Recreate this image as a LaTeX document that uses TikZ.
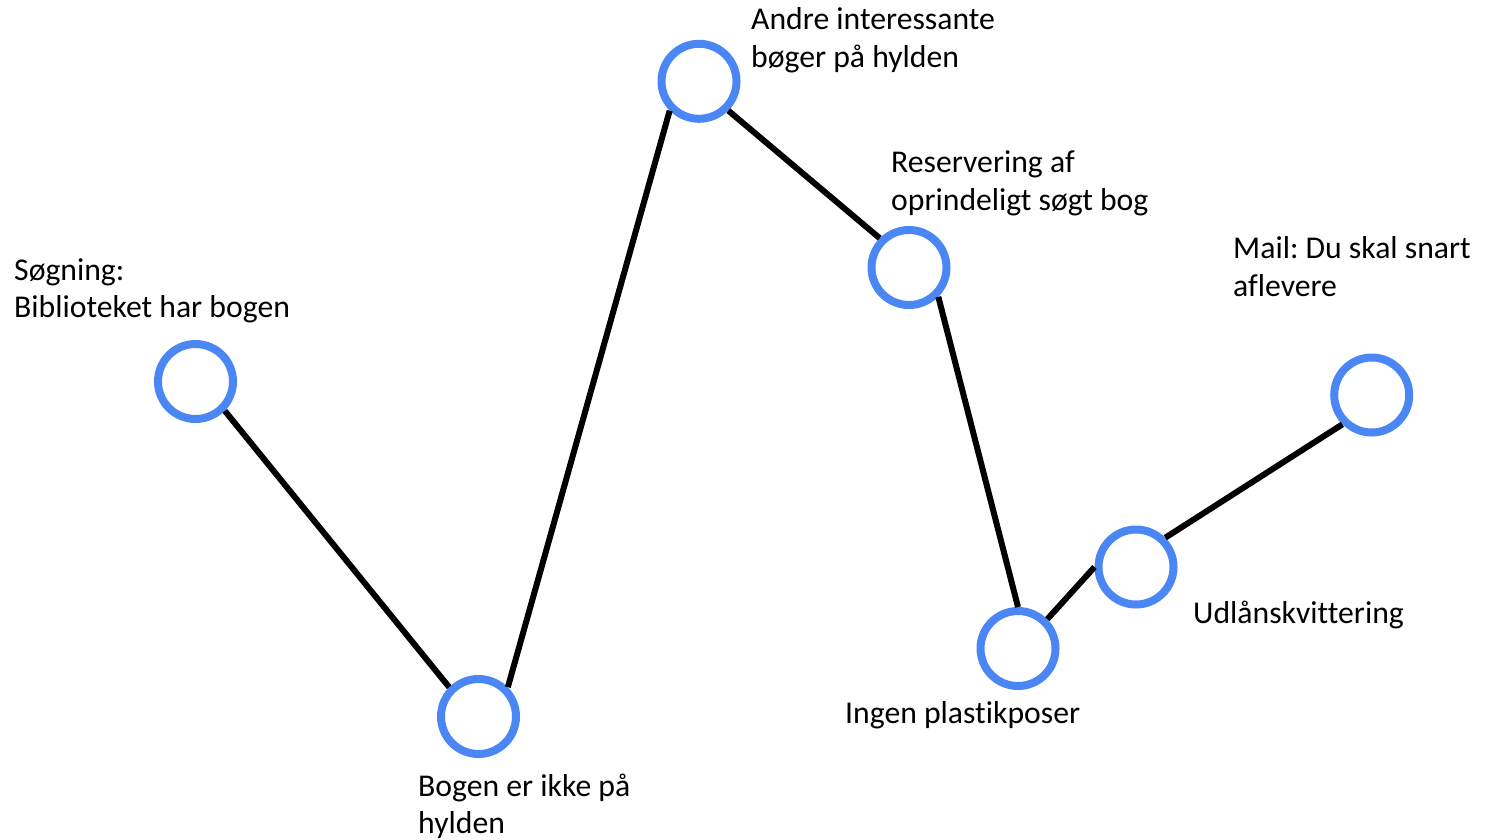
\documentclass[tikz,border=0pt]{standalone}
\usepackage{fontspec}
\setmainfont{Carlito}[Ligatures=NoCommon]
\frenchspacing
\definecolor{stepblue}{HTML}{4A87F5}
\tikzset{
  stage/.style={circle, draw=stepblue, line width=8pt, minimum size=75pt, inner sep=0pt},
  link/.style={draw=black, line width=6pt},
  lbl/.style={anchor=base west, inner sep=0pt, align=left,
    font=\fontsize{31.7pt}{37.5pt}\selectfont}
}
\begin{document}
\begin{tikzpicture}[x=1pt, y=-1pt]
\useasboundingbox (0,0) rectangle (1493,839);
\node[stage] (c1) at (195.5,381.5) {};
\node[stage] (c2) at (478.5,716.5) {};
\node[stage] (c3) at (699,81.3) {};
\node[stage] (c4) at (909,267.5) {};
\node[stage] (c5) at (1018,648.5) {};
\node[stage] (c6) at (1136,567) {};
\node[stage] (c7) at (1371.7,395) {};
\draw[link] (c1.south east) -- (c2.north west);
\draw[link] (c2.north east) -- (c3.south west);
\draw[link] (c3.south east) -- (c4.north west);
\draw[link] (c4.south east) -- (c5.north);
\draw[link] (c5.north east) -- (c6.west);
\draw[link] (c6.north east) -- (c7.south west);
% base anchor of a two-line label is the baseline of its last line
\node[lbl] (t1) at (14,317.5) {Søgning:\\Biblioteket har bogen};
\node[lbl] (t2) at (418,833.5) {Bogen er ikke på\\hylden};
\node[lbl] (t3) at (751,67) {Andre interessante\\bøger på hylden};
\node[lbl] (t4) at (891,210) {Reservering af\\oprindeligt søgt bog};
\node[lbl] (t5) at (845,723) {Ingen plastikposer};
\node[lbl] (t6) at (1193,623) {Udlånskvittering};
\node[lbl] (t7) at (1233,296) {Mail: Du skal snart\\aflevere};
\end{tikzpicture}
\end{document}
